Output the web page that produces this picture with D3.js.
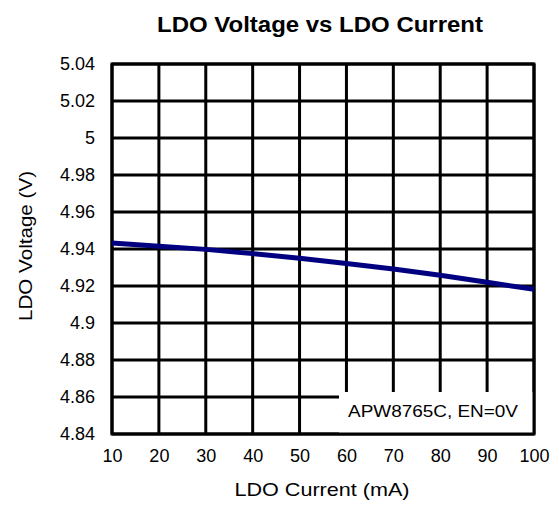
<!DOCTYPE html>
<html><head><meta charset="utf-8">
<script src="https://cdn.jsdelivr.net/npm/d3@7"></script>
<style>body{margin:0;background:#fff}svg{font-family:Arial,"Liberation Sans",sans-serif}</style>
</head><body>
<svg id="c" width="559" height="509"></svg>
<script>
const currents = [10, 20, 30, 40, 50, 60, 70, 80, 90, 100];
const voltages = [4.9432, 4.9415, 4.9398, 4.9375, 4.9350, 4.9322, 4.9292, 4.9258, 4.9220, 4.9182];
const xTicks = [10, 20, 30, 40, 50, 60, 70, 80, 90, 100];
const yTicks = [4.84, 4.86, 4.88, 4.9, 4.92, 4.94, 4.96, 4.98, 5, 5.02, 5.04];
const title = "LDO Voltage vs LDO Current";
const xLabel = "LDO Current (mA)";
const yLabel = "LDO Voltage (V)";
const legendText = "APW8765C, EN=0V";

const svg = d3.select("#c");
const FF = "Arial,'Liberation Sans',sans-serif";
const L = 112, R = 534, T = 64, B = 434;
const x = d3.scaleLinear().domain([10, 100]).range([L, R]);
const y = d3.scaleLinear().domain([4.84, 5.04]).range([B, T]);

// grid
svg.append("g").selectAll("line").data(xTicks).join("line")
  .attr("x1", d => x(d)).attr("x2", d => x(d)).attr("y1", T).attr("y2", B)
  .attr("stroke", "#000").attr("stroke-width", 3);
svg.append("g").selectAll("line").data(yTicks).join("line")
  .attr("y1", d => y(d)).attr("y2", d => y(d)).attr("x1", L).attr("x2", R)
  .attr("stroke", "#000").attr("stroke-width", 3);

// legend box (white, covering grid)
svg.append("rect").attr("x", 339).attr("y", 392).attr("width", R - 339).attr("height", B - 392)
  .attr("fill", "#fff");
// frame
svg.append("rect").attr("x", L).attr("y", T).attr("width", R - L).attr("height", B - T)
  .attr("fill", "none").attr("stroke", "#000").attr("stroke-width", 3);
svg.append("text").attr("x", 433).attr("y", 417).attr("text-anchor", "middle")
  .attr("font-size", 17).attr("textLength", 170).attr("lengthAdjust", "spacingAndGlyphs").text(legendText);

// line
svg.append("path").datum(currents.map((c, i) => [c, voltages[i]]))
  .attr("d", d3.line().x(d => x(d[0])).y(d => y(d[1])))
  .attr("fill", "none").attr("stroke", "#000080").attr("stroke-width", 5);

// axes labels via d3 axes
const xa = svg.append("g").attr("transform", `translate(0,${B})`)
  .call(d3.axisBottom(x).tickValues(xTicks).tickSize(0).tickPadding(15).tickFormat(d3.format("d")));
xa.select(".domain").remove();
xa.selectAll("text").attr("font-size", 18).attr("font-family", FF).attr("fill", "#000");
const ya = svg.append("g").attr("transform", `translate(${L},0)`)
  .call(d3.axisLeft(y).tickValues(yTicks).tickSize(0).tickPadding(17).tickFormat(d => String(+d.toFixed(2))));
ya.select(".domain").remove();
ya.selectAll("text").attr("font-size", 18).attr("font-family", FF).attr("fill", "#000");

svg.append("text").attr("x", 320).attr("y", 32).attr("text-anchor", "middle")
  .attr("font-size", 22).attr("font-weight", "bold")
  .attr("textLength", 326).attr("lengthAdjust", "spacingAndGlyphs").text(title);
svg.append("text").attr("x", 322).attr("y", 496).attr("text-anchor", "middle")
  .attr("font-size", 19).attr("textLength", 175).attr("lengthAdjust", "spacingAndGlyphs").text(xLabel);
svg.append("text").attr("transform", "translate(32,246) rotate(-90)").attr("text-anchor", "middle")
  .attr("font-size", 19).attr("textLength", 150).attr("lengthAdjust", "spacingAndGlyphs").text(yLabel);
</script>
</body></html>
